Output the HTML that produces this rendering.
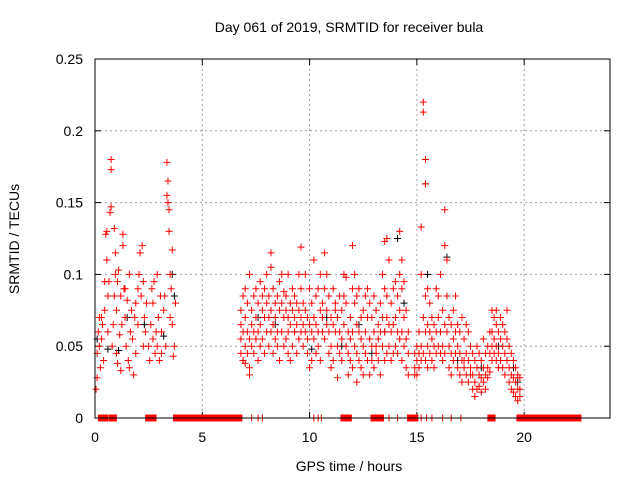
<!DOCTYPE html>
<html><head><meta charset="utf-8"><style>
body{margin:0;background:#fff;}
svg{display:block;font-family:"Liberation Sans",sans-serif;}
</style></head><body>
<svg id="chart" width="640" height="480">
<text x="349" y="32" font-size="14" text-anchor="middle">Day 061 of 2019, SRMTID for receiver bula</text>
<text x="349" y="471" font-size="14" text-anchor="middle">GPS time / hours</text>
<text transform="translate(19,239) rotate(-90)" font-size="14" text-anchor="middle">SRMTID / TECUs</text>
<g id="grid"></g><g id="ticks"></g><g id="marks"></g>
<rect x="95" y="59" width="515" height="359" fill="none" stroke="#000" stroke-width="1"/>
</svg>
<script>
const xTicks=[0,5,10,15,20];
const yTicks=[0,0.05,0.1,0.15,0.2,0.25];
const yTickLabels=["0","0.05","0.1","0.15","0.2","0.25"];
// early cluster: [hour, value]
const redEarly=[[0.05,.02],[0.1,.028],[0.1,.045],[0.15,.06],[0.2,.05],[0.2,.07],[0.25,.035],[0.3,.055],[0.35,.065],[0.4,.04],[0.45,.075],[0.45,.095],[0.5,.128],[0.55,.13],[0.55,.11],[0.6,.085],[0.6,.06],[0.65,.095],[0.7,.143],[0.75,.147],[0.75,.18],[0.75,.173],[0.8,.05],[0.85,.065],[0.9,.085],[0.9,.132],[0.95,.10],[1.0,.075],[1.0,.045],[1.05,.095],[1.1,.103],[1.15,.058],[1.2,.085],[1.2,.033],[1.25,.065],[1.3,.128],[1.3,.12],[1.35,.09],[1.4,.07],[1.45,.05],[1.5,.082],[1.55,.04],[1.6,.035],[1.65,.06],[1.7,.075],[1.75,.055],[1.8,.03],[1.85,.07],[1.9,.08],[2.0,.09],[2.05,.10],[2.1,.115],[2.15,.085],[2.2,.12],[2.25,.095],[2.3,.07],[2.35,.06],[2.4,.08],[2.5,.05],[2.55,.04],[2.6,.065],[2.65,.09],[2.7,.055],[2.75,.095],[2.8,.045],[2.85,.06],[2.9,.05],[2.95,.07],[3.0,.04],[3.05,.085],[3.1,.06],[3.2,.075],[3.25,.085],[3.3,.05],[3.35,.178],[3.35,.155],[3.4,.15],[3.4,.165],[3.45,.145],[3.45,.13],[3.5,.10],[3.5,.07],[3.55,.09],[3.6,.065],[3.6,.117],[3.65,.043],[3.7,.05],[3.75,.08],[2.25,.05],[1.05,.038],[0.95,.115],[1.6,.1],[1.9,.045],[2.0,.065],[2.9,.1],[3.1,.045],[0.3,.07],[1.4,.09],[2.7,.08]];
// main cluster rows: [hour, values...]
const redMain=[[6.8,.065,.055,.045,.075],[6.9,.06,.085,.04],[7.0,.07,.05,.09,.038],[7.1,.06,.045,.08],[7.2,.055,.035,.1,.03],[7.3,.065,.075,.05],[7.4,.085,.06,.045],[7.5,.07,.09,.055],[7.6,.08,.06,.04],[7.7,.095,.065,.05],[7.8,.075,.085,.055],[7.9,.09,.07,.045],[8.0,.08,.06,.1],[8.1,.085,.05,.07],[8.2,.115,.075,.06,.105],[8.3,.09,.065,.045],[8.4,.08,.07,.055],[8.5,.085,.06,.05],[8.6,.095,.075,.04],[8.7,.08,.06,.1],[8.8,.07,.05,.088],[8.9,.085,.075,.055],[9.0,.1,.07,.06,.045],[9.1,.08,.065,.04],[9.2,.09,.075,.05],[9.3,.07,.06,.085],[9.4,.065,.045,.08],[9.5,.075,.055,.1],[9.6,.119,.09,.07,.06],[9.7,.08,.065,.05],[9.8,.075,.1,.06],[9.9,.07,.055,.045],[10.0,.065,.035,.09],[10.1,.06,.04,.08],[10.2,.11,.07,.055],[10.3,.085,.065,.045],[10.4,.09,.05,.06],[10.5,.075,.1,.04],[10.6,.08,.06,.07],[10.7,.115,.09,.055],[10.8,.1,.075,.065],[10.9,.085,.045,.06],[11.0,.07,.05,.035],[11.1,.09,.065,.04],[11.2,.08,.06,.075],[11.3,.07,.05,.028],[11.4,.085,.06,.045],[11.5,.075,.055,.04],[11.6,.1,.085,.065],[11.7,.098,.08,.05],[11.8,.06,.045,.03],[11.9,.07,.04,.055],[12.0,.12,.09,.06,.035],[12.1,.1,.08,.05],[12.2,.085,.065,.045,.025],[12.3,.09,.06,.04],[12.4,.07,.055,.035],[12.5,.075,.05,.03],[12.6,.085,.06,.045],[12.7,.09,.07,.04],[12.8,.08,.055,.03],[12.9,.07,.05,.04],[13.0,.085,.06,.035],[13.1,.075,.045,.05],[13.2,.065,.055,.04],[13.3,.08,.06,.03],[13.4,.1,.07,.05],[13.5,.123,.09,.06,.04],[13.6,.125,.085,.07,.045],[13.7,.11,.065,.05],[13.8,.08,.06,.04],[13.9,.09,.065,.045],[14.0,.095,.07,.05],[14.1,.085,.06,.045],[14.2,.13,.1,.075,.055],[14.3,.11,.09,.06,.04],[14.4,.095,.07,.05],[14.5,.075,.055,.035],[14.6,.06,.045,.03],[14.9,.045,.035,.03],[15.0,.04,.05,.03],[15.1,.035,.045,.06],[15.2,.133,.1,.05,.04],[15.3,.22,.213,.07,.045],[15.4,.18,.163,.085,.06,.04],[15.5,.09,.065,.05,.035],[15.6,.08,.06,.045],[15.7,.07,.055,.04],[15.8,.065,.05,.035],[15.9,.09,.06,.045],[16.0,.085,.07,.05],[16.1,.1,.06,.045],[16.2,.075,.05,.04],[16.3,.145,.12,.065,.045],[16.4,.11,.085,.06],[16.5,.07,.05,.035],[16.6,.065,.045,.03],[16.7,.075,.055,.04],[16.8,.085,.06,.045],[16.9,.065,.05,.035],[17.0,.06,.045,.03],[17.1,.07,.04,.025],[17.2,.055,.04,.035],[17.3,.065,.045,.03],[17.4,.06,.04,.025],[17.5,.05,.035,.03],[17.6,.045,.03,.02],[17.7,.04,.025,.015],[17.8,.05,.035,.02],[17.9,.045,.03,.022],[18.0,.04,.028,.018],[18.1,.055,.035,.025],[18.2,.045,.03,.02],[18.3,.05,.035,.028],[18.4,.06,.045,.032],[18.5,.075,.06,.05,.04],[18.6,.07,.055,.045],[18.7,.075,.065,.05,.04],[18.8,.06,.045,.035],[18.9,.07,.055,.04],[19.0,.065,.05,.035],[19.1,.06,.045,.03],[19.2,.075,.055,.04],[19.3,.05,.035,.025],[19.4,.045,.03,.02],[19.5,.04,.028,.018],[19.6,.035,.025,.015],[19.7,.03,.02,.012],[19.8,.028,.02,.015]];
const blackPts=[[0.1,.055],[0.6,.048],[1.1,.047],[1.5,.07],[2.3,.065],[3.2,.057],[3.6,.1],[3.7,.085],[6.9,.04],[7.6,.07],[8.4,.065],[9.3,.06],[10.1,.048],[10.8,.07],[11.5,.05],[12.3,.065],[12.9,.045],[13.5,.06],[14.1,.125],[14.4,.08],[15.4,.163],[15.5,.1],[16.4,.112],[16.9,.04],[18.0,.035],[18.8,.05],[19.5,.035],[19.7,.025]];
const zeroTimes=[0.3,0.35,0.4,0.45,0.8,0.85,2.5,2.55,2.6,2.65,2.7,3.8,3.9,4.0,4.1,4.2,4.3,4.4,4.5,4.6,4.7,4.8,4.9,5.0,5.1,5.2,5.3,5.4,5.5,5.6,5.7,5.8,5.9,6.0,6.1,6.2,6.3,6.4,6.5,6.6,6.7,7.3,7.6,7.8,10.2,10.4,10.55,11.6,11.7,11.8,13.0,13.1,13.2,13.3,13.7,14.1,14.7,14.8,14.9,15.2,15.45,15.7,16.2,16.6,17.05,18.45,18.5,19.8,19.9,20.0,20.1,20.2,20.3,20.4,20.5,20.6,20.7,20.8,20.9,21.0,21.1,21.2,21.3,21.4,21.5,21.6,21.7,21.8,21.9,22.0,22.1,22.2,22.3,22.4,22.5];

const NS='http://www.w3.org/2000/svg';
const X0=95,X1=610,Y0=418,Y1=59;
const xs=t=>X0+(t/24)*(X1-X0);
const ys=v=>Y0-(v/0.25)*(Y0-Y1);
function mk(tag,attrs,parent){const e=document.createElementNS(NS,tag);for(const k in attrs)e.setAttribute(k,attrs[k]);parent.appendChild(e);return e;}
const grid=document.getElementById('grid'),ticks=document.getElementById('ticks'),marks=document.getElementById('marks');
xTicks.forEach(t=>{
  const x=xs(t);
  if(t>0){const g=mk('line',{x1:x,x2:x,y1:Y1,y2:Y0,stroke:'#a0a0a0','stroke-dasharray':'2,3'},grid);
  
  }
  mk('line',{x1:x,x2:x,y1:Y0,y2:Y0-6,stroke:'#000'},ticks);
  mk('line',{x1:x,x2:x,y1:Y1,y2:Y1+6,stroke:'#000'},ticks);
  const l=mk('text',{x:x,y:Y0+24,'font-size':14,'text-anchor':'middle'},ticks);
  l.textContent=t;
  
  
});
yTicks.forEach((v,i)=>{
  const y=ys(v);
  if(v>0&&v<0.25){const g=mk('line',{x1:X0,x2:X1,y1:y,y2:y,stroke:'#a0a0a0','stroke-dasharray':'2,3'},grid);
  
  }
  mk('line',{x1:X0,x2:X0+6,y1:y,y2:y,stroke:'#000'},ticks);
  mk('line',{x1:X1,x2:X1-6,y1:y,y2:y,stroke:'#000'},ticks);
  const l=mk('text',{x:X0-12,y:y+5,'font-size':14,'text-anchor':'end'},ticks);
  l.textContent=yTickLabels[i];
  
  
});
function plus(t,v,color,name,w){
  const x=xs(t),y=ys(v);
  const p=mk('path',{d:`M${x-3.5},${y}H${x+3.5}M${x},${y-3.5}V${y+3.5}`,stroke:color,'stroke-width':w||1,fill:'none'},marks);
  
  
}
blackPts.forEach(p=>plus(p[0],p[1],'#000','black-point'));
redEarly.forEach(p=>plus(p[0],p[1],'#f00','red-point'));
redMain.forEach(r=>{for(let i=1;i<r.length;i++)plus(r[0],r[i],'#f00','red-point');});
zeroTimes.forEach((t,i)=>{
  const prev=zeroTimes[i-1],next=zeroTimes[i+1];
  const dense=(prev!==undefined&&t-prev<0.13)||(next!==undefined&&next-t<0.13);
  if(dense){
    const x=xs(t);
    const x2=(next!==undefined&&next-t<0.13)?xs(next):x;
    const z=mk('rect',{x:x-3.5,y:Y0-3.5,width:x2-x+7,height:7,fill:'#f00'},marks);
    
    
  } else {
    plus(t,0,'#f00','zero-marker',1);
  }
});
</script>
</body></html>
